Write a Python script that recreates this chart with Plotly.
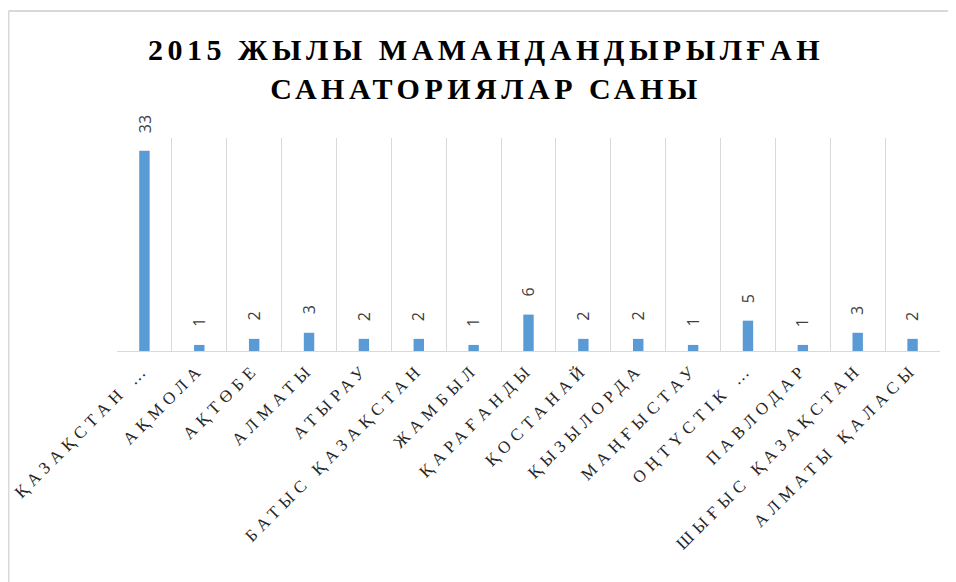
import plotly.graph_objects as go

regions = [
    "ҚАЗАҚСТАН …", "АҚМОЛА", "АҚТӨБЕ", "АЛМАТЫ", "АТЫРАУ",
    "БАТЫС ҚАЗАҚСТАН", "ЖАМБЫЛ", "ҚАРАҒАНДЫ", "ҚОСТАНАЙ", "ҚЫЗЫЛОРДА",
    "МАҢҒЫСТАУ", "ОҢТҮСТІК …", "ПАВЛОДАР", "ШЫҒЫС ҚАЗАҚСТАН", "АЛМАТЫ ҚАЛАСЫ",
]
sanatoriums = [33, 1, 2, 3, 2, 2, 1, 6, 2, 2, 1, 5, 1, 3, 2]

title_text = "<b>2015 ЖЫЛЫ МАМАНДАНДЫРЫЛҒАН<br>САНАТОРИЯЛАР САНЫ</b>"

SERIF = "Liberation Serif, Times New Roman, serif"

fig = go.Figure()
fig.add_bar(
    x=regions,
    y=sanatoriums,
    width=0.19,
    marker=dict(color="#5b9bd5", line=dict(width=0)),
    hoverinfo="x+y",
)

# data labels, rotated like the Excel original
for r, v in zip(regions, sanatoriums):
    fig.add_annotation(
        x=r, y=v, text=str(v), textangle=-90,
        showarrow=False, yanchor="bottom", yshift=16,
        font=dict(family="Open Sans", size=16, color="#404040"),
    )

# chart frame (top and left edges visible)
fig.add_shape(type="line", xref="paper", yref="paper",
              x0=-0.1318, x1=1.05, y0=1.596, y1=1.596,
              line=dict(color="#d9d9d9", width=2))
fig.add_shape(type="line", xref="paper", yref="paper",
              x0=-0.1318, x1=-0.1318, y0=1.596, y1=-1.2,
              line=dict(color="#d9d9d9", width=2))

fig.update_layout(
    width=956, height=582,
    margin=dict(l=109, r=24, t=130, b=239, autoexpand=False),
    paper_bgcolor="white",
    plot_bgcolor="white",
    showlegend=False,
    title=dict(
        text=title_text,
        x=0.5, xanchor="center",
        y=0.91, yanchor="top",
        font=dict(family=SERIF, size=30, color="#000000"),
    ),
    xaxis=dict(
        tickson="boundaries",
        showgrid=True, gridcolor="#d9d9d9", gridwidth=1,
        showline=True, linecolor="#d9d9d9", linewidth=1,
        ticks="", tickangle=-45, automargin=False,
        tickfont=dict(family=SERIF, size=17, color="#262626"),
    ),
    yaxis=dict(
        range=[0, 35.1],
        visible=False,
    ),
)

# Excel draws the title and category names with wide letter spacing
spacing_js = """
document.querySelectorAll('.gtitle').forEach(function(e){e.style.letterSpacing='4.5px';});
document.querySelectorAll('.xtick text').forEach(function(e){e.style.letterSpacing='5.5px';});
"""

fig.write_html("out.html", post_script=spacing_js)
